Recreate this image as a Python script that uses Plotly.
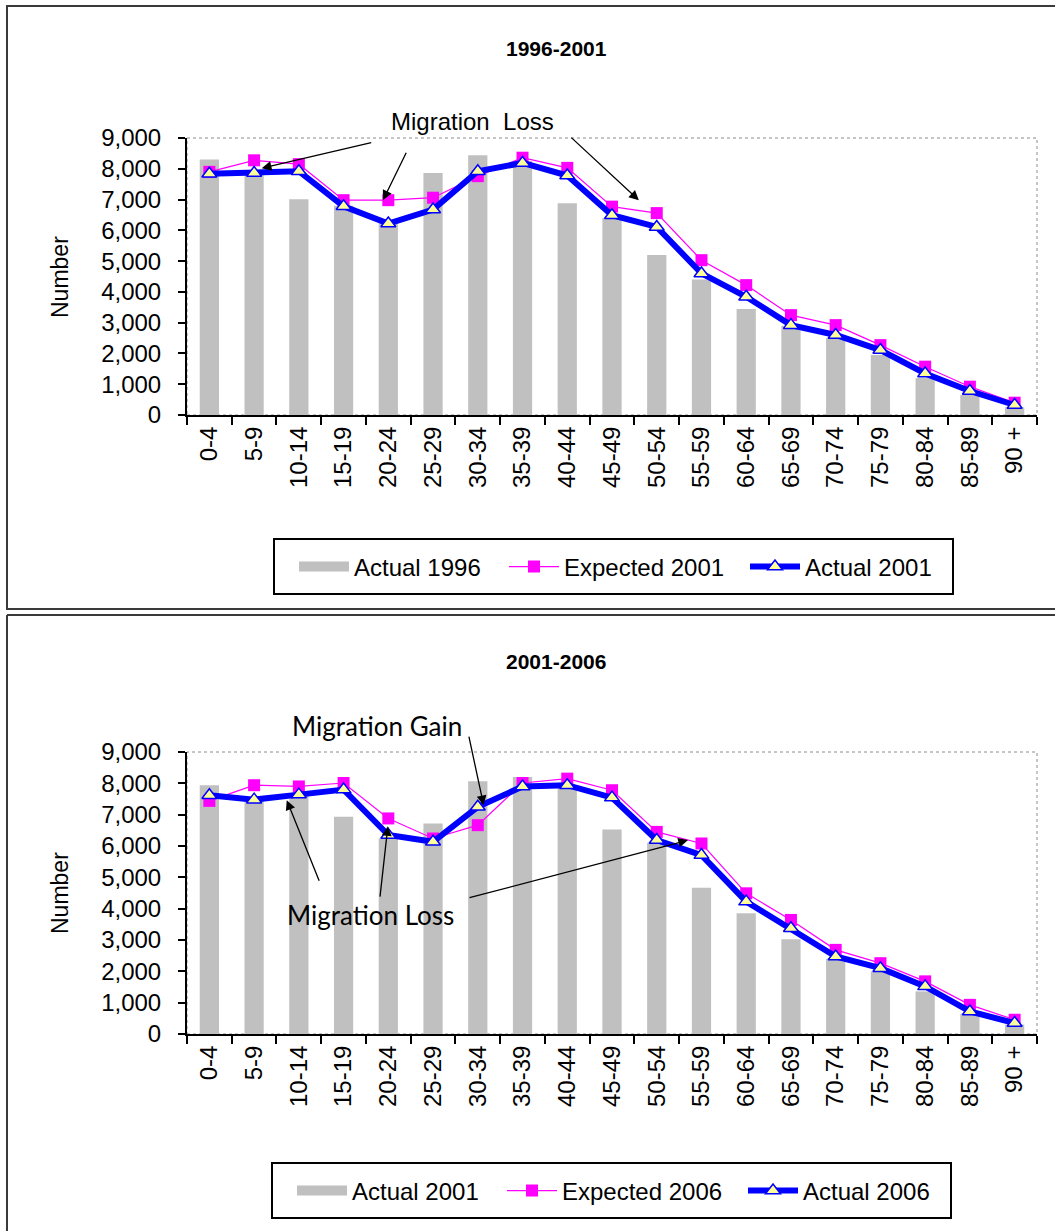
import plotly.graph_objects as go
from plotly.subplots import make_subplots

# age groups on the x axis (shared by both panels)
age_groups = ["0-4", "5-9", "10-14", "15-19", "20-24", "25-29", "30-34", "35-39",
              "40-44", "45-49", "50-54", "55-59", "60-64", "65-69", "70-74",
              "75-79", "80-84", "85-89", "90 +"]

# panel 1: 1996-2001
actual_1996 = [8300, 7800, 7010, 6800, 6250, 7860, 8440, 8250, 6880, 6400,
               5200, 4400, 3440, 2900, 2500, 1950, 1200, 650, 250]
expected_2001 = [7900, 8275, 8150, 6980, 6980, 7060, 7760, 8360, 8030, 6770,
                 6560, 5030, 4220, 3245, 2920, 2270, 1570, 920, 400]
actual_2001 = [7840, 7865, 7920, 6780, 6220, 6675, 7920, 8190, 7780, 6490,
               6110, 4600, 3840, 2920, 2600, 2110, 1350, 780, 325]

# panel 2: 2001-2006
actual_2001_bars = [7940, 7450, 7600, 6930, 6250, 6720, 8070, 8200, 7900, 6530,
                    6100, 4670, 3850, 3025, 2400, 2000, 1360, 650, 300]
expected_2006 = [7440, 7940, 7900, 8010, 6880, 6240, 6665, 8010, 8150, 7780,
                 6450, 6080, 4490, 3640, 2685, 2260, 1680, 930, 455]
actual_2006 = [7620, 7480, 7640, 7800, 6350, 6135, 7250, 7900, 7940, 7545,
               6190, 5710, 4225, 3375, 2475, 2100, 1520, 720, 350]

W, H = 1055, 1231
FONT = "Liberation Sans, Arial, sans-serif"
CAL = "Lato, Carlito, sans-serif"
GREY = "#C0C0C0"
MAGENTA = "#FF00FF"
BLUE = "#0000FF"
FRAME = "#3A3A3A"


def px_x(p):
    return p / W


def px_y(p):
    return 1 - p / H


fig = make_subplots(rows=2, cols=1)


def add_panel(row, bars, expected, actual, names, legend):
    fig.add_trace(go.Bar(x=age_groups, y=bars, name=names[0], width=0.43,
                         marker=dict(color=GREY, line_width=0), showlegend=False),
                  row=row, col=1)
    # wide grey swatch for the bar series in the legend
    fig.add_trace(go.Scatter(x=[None], y=[None], name=names[0], mode="lines",
                             line=dict(color=GREY, width=13), legend=legend,
                             legendwidth=145), row=row, col=1)
    fig.add_trace(go.Scatter(x=age_groups, y=expected, name=names[1], mode="lines+markers",
                             line=dict(color=MAGENTA, width=1.2),
                             marker=dict(symbol="square", size=12, color=MAGENTA),
                             legend=legend, legendwidth=176), row=row, col=1)
    fig.add_trace(go.Scatter(x=age_groups, y=actual, name=names[2], mode="lines+markers",
                             line=dict(color=BLUE, width=6),
                             marker=dict(symbol="triangle-up", size=13, color="#FFFF99",
                                         line=dict(color=BLUE, width=1.5)),
                             legend=legend), row=row, col=1)


add_panel(1, actual_1996, expected_2001, actual_2001,
          ["Actual 1996", "Expected 2001", "Actual 2001"], "legend")
add_panel(2, actual_2001_bars, expected_2006, actual_2006,
          ["Actual 2001", "Expected 2006", "Actual 2006"], "legend2")

fig.update_xaxes(type="category", range=[-0.5, len(age_groups) - 0.5], autorange=False,
                 tickson="boundaries", ticks="outside", ticklen=8, automargin=False,
                 tickwidth=1.5, tickcolor="black", showline=True, linecolor="black",
                 linewidth=2, tickangle=-90, showgrid=False, zeroline=False,
                 tickfont=dict(family=FONT, size=24, color="black"))
fig.update_yaxes(range=[0, 9000], autorange=False, dtick=1000, tickformat=",d",
                 ticks="outside", ticklen=7, automargin=False,
                 tickwidth=1.5, tickcolor="black", showline=True, linecolor="black",
                 linewidth=2, showgrid=False, zeroline=False, ticklabelstandoff=12,
                 tickfont=dict(family=FONT, size=24, color="black"))

legend_style = dict(orientation="h", xanchor="left", yanchor="middle", borderwidth=0,
                    bgcolor="rgba(0,0,0,0)", itemwidth=50, traceorder="normal",
                    font=dict(family=FONT, size=24, color="black"))

fig.update_layout(
    width=W, height=H,
    margin=dict(l=0, r=0, t=0, b=0, pad=0, autoexpand=False),
    paper_bgcolor="white", plot_bgcolor="white",
    xaxis=dict(domain=[px_x(187), px_x(1037)]),
    xaxis2=dict(domain=[px_x(187), px_x(1037)]),
    yaxis=dict(domain=[px_y(415), px_y(138)]),
    yaxis2=dict(domain=[px_y(1034), px_y(752)]),
    legend=dict(x=px_x(294), y=px_y(567), **legend_style),
    legend2=dict(x=px_x(292), y=px_y(1191), **legend_style),
)

shapes = []
# dotted plot-area borders
for xr, yr in (("x domain", "y domain"), ("x2 domain", "y2 domain")):
    shapes.append(dict(type="rect", xref=xr, yref=yr, x0=0, x1=1, y0=0, y1=1, layer="below",
                       line=dict(color="#8C8C8C", width=1, dash="dot")))
# legend boxes
shapes.append(dict(type="rect", xref="paper", yref="paper", x0=px_x(274), x1=px_x(953),
                   y0=px_y(594), y1=px_y(539), line=dict(color="black", width=2)))
shapes.append(dict(type="rect", xref="paper", yref="paper", x0=px_x(272), x1=px_x(951),
                   y0=px_y(1218), y1=px_y(1163), line=dict(color="black", width=2)))
# panel frames
shapes.append(dict(type="rect", xref="paper", yref="paper", x0=px_x(7), x1=1.02,
                   y0=px_y(609), y1=px_y(6), line=dict(color=FRAME, width=2)))
shapes.append(dict(type="line", xref="paper", yref="paper", x0=px_x(7), x1=1.02,
                   y0=px_y(615), y1=px_y(615), line=dict(color=FRAME, width=2)))
shapes.append(dict(type="line", xref="paper", yref="paper", x0=px_x(7), x1=px_x(7),
                   y0=px_y(615), y1=0, line=dict(color=FRAME, width=2)))
fig.update_layout(shapes=shapes)

annotations = []
for title, ty in (("1996-2001", 48), ("2001-2006", 661)):
    annotations.append(dict(text="<b>%s</b>" % title, xref="paper", yref="paper",
                            x=px_x(556), y=px_y(ty), xanchor="center", yanchor="middle",
                            showarrow=False, font=dict(family=FONT, size=21, color="black")))
for ny in (277, 893):
    annotations.append(dict(text="Number", xref="paper", yref="paper", x=px_x(60), y=px_y(ny),
                            xanchor="center", yanchor="middle", textangle=-90,
                            showarrow=False, font=dict(family=FONT, size=23, color="black")))

# callout texts (above / inside the plot areas)
callouts = [("Migration  Loss", 472, 121, FONT, 24),
            ("Migration Gain", 377, 726, CAL, 26),
            ("Migration Loss", 370, 915, CAL, 26)]
for txt, cx, cy, fam, size in callouts:
    annotations.append(dict(text=txt, xref="paper", yref="paper", x=px_x(cx), y=px_y(cy),
                            xanchor="center", yanchor="middle", showarrow=False,
                            font=dict(family=fam, size=size, color="black")))

# arrows: head in data space, tail offset in pixels
arrows = [("x", "y", 1.17, 8016, 111, -26), ("x", "y", 3.88, 6978, 24, -49),
          ("x", "y", 9.6, 6978, -69, -64),
          ("x2", "y2", 6.13, 7302, -15, -70), ("x2", "y2", 1.73, 7462, 33, 82),
          ("x2", "y2", 3.99, 6634, -8, 72), ("x2", "y2", 10.7, 6188, -220, 58)]
for xr, yr, hx, hy, ax, ay in arrows:
    annotations.append(dict(text="", xref=xr, yref=yr, x=hx, y=hy, ax=ax, ay=ay,
                            showarrow=True, arrowhead=2, arrowsize=1.5, arrowwidth=1.3,
                            arrowcolor="black"))
fig.update_layout(annotations=annotations)

# drop the default page margin so the figure fills the window exactly
fig.write_html("out.html", config={"displayModeBar": False},
               post_script="document.body.style.margin='0';"
                           "document.body.style.overflow='hidden';")
